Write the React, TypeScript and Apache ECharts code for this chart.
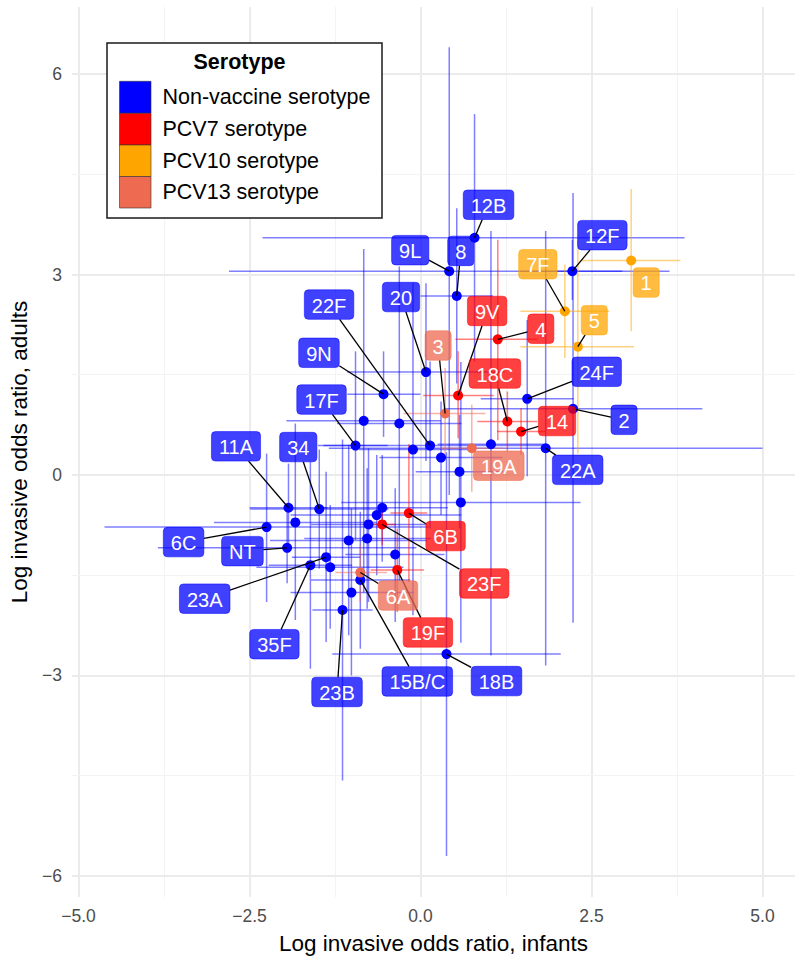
import React, { useEffect, useRef } from "react";
import * as echarts from "echarts";

// ---------- data ----------
const groupNames = ["Non-vaccine serotype", "PCV7 serotype", "PCV10 serotype", "PCV13 serotype"];
const groupColors = ["#0000FF", "#FF0000", "#FFA500", "#EE6A50"];

const serotypes = [
  "12B", "9L", "8", "12F", "20", "24F", "2", "22A", "", "22F",
  "", "", "", "", "9N", "", "", "17F", "11A", "34",
  "", "6C", "NT", "23A", "35F", "", "", "", "", "",
  "", "", "15B/C", "", "23B", "18B",
  "4", "9V", "18C", "14", "23F", "6B", "19F",
  "1", "7F", "5",
  "3", "19A", "6A",
];
const groups = [
  0, 0, 0, 0, 0, 0, 0, 0, 0, 0,
  0, 0, 0, 0, 0, 0, 0, 0, 0, 0,
  0, 0, 0, 0, 0, 0, 0, 0, 0, 0,
  0, 0, 0, 0, 0, 0,
  1, 1, 1, 1, 1, 1, 1,
  2, 2, 2,
  3, 3, 3,
];
const infantLogOR = [
  0.79, 0.42, 0.53, 2.22, 0.08, 1.56, 2.23, 1.83, 1.03, 0.14,
  -0.11, 0.30, 0.57, 0.59, -0.54, -0.83, -0.31, -0.95, -1.93, -1.48,
  -1.83, -2.25, -1.95, -1.38, -1.61, -1.32, -0.56, -0.64, -0.76, -1.05,
  -0.78, -0.37, -0.88, -1.01, -1.14, 0.38,
  1.13, 0.55, 1.27, 1.47, -0.56, -0.17, -0.34,
  3.08, 2.11, 2.30,
  0.36, 0.75, -0.88,
];
const adultLogOR = [
  3.55, 3.05, 2.68, 3.05, 1.54, 1.14, 0.99, 0.40, 0.46, 0.44,
  0.38, 0.26, 0.05, -0.41, 1.21, 0.81, 0.77, 0.44, -0.49, -0.51,
  -0.71, -0.78, -1.09, -1.23, -1.35, -1.38, -0.49, -0.60, -0.74, -0.98,
  -0.95, -1.19, -1.57, -1.76, -2.02, -2.68,
  2.03, 1.19, 0.80, 0.65, -0.74, -0.57, -1.42,
  3.21, 2.45, 1.92,
  0.92, 0.40, -1.46,
];
const infantLow = [
  -2.31, -2.80, 0.00, 1.45, -1.07, 0.88, 0.34, -1.34, 0.25, -1.50,
  -0.90, -0.60, -0.07, -1.16, -1.07, -1.96, -1.22, -1.42, -2.50, -2.49,
  -3.02, -4.62, -3.84, -1.88, -2.22, -2.40, -1.50, -1.90, -1.60, -2.20,
  -1.70, -1.10, -1.60, -1.90, -1.58, -1.29,
  0.51, 0.04, 0.83, 1.12, -0.76, -0.44, -0.73,
  2.35, 1.46, 1.46,
  -0.25, 0.29, -1.24,
];
const infantHigh = [
  3.86, 3.64, 1.06, 2.95, 1.23, 2.24, 4.12, 5.00, 1.80, 1.80,
  0.70, 1.20, 1.21, 2.34, 0.00, 0.30, 0.60, -0.48, -1.36, -0.47,
  -0.64, 0.12, -0.06, -0.88, -1.00, -0.25, 0.40, 0.60, 0.10, 0.10,
  0.15, 0.35, -0.15, -0.10, -0.70, 2.05,
  1.71, 1.07, 1.71, 1.83, -0.36, 0.10, 0.05,
  3.80, 2.76, 3.12,
  0.95, 1.21, -0.49,
];
const adultLow = [
  1.70, -0.30, 1.37, 2.62, 0.21, -0.02, -2.21, -2.85, -2.70, -0.80,
  -2.10, -0.60, -0.80, -2.51, 0.57, -1.76, -1.58, -0.97, -1.15, -1.40,
  -2.17, -1.90, -1.62, -2.50, -2.90, -2.30, -1.30, -1.50, -1.90, -2.40,
  -2.00, -2.20, -2.60, -3.00, -4.57, -5.70,
  0.52, 0.55, 0.35, 0.30, -1.05, -1.60, -2.05,
  2.15, 1.75, 0.32,
  0.25, -0.25, -1.90,
];
const adultHigh = [
  5.40, 6.40, 3.99, 3.52, 2.87, 2.32, 4.22, 3.65, 3.65, 1.70,
  2.88, 1.10, 0.90, 1.69, 1.85, 3.38, 3.12, 1.85, 0.17, 0.38,
  0.77, 0.32, -0.55, 0.05, 0.20, -0.45, 0.30, 0.30, 0.40, 0.45,
  0.10, -0.20, -0.55, -0.50, 0.53, 0.34,
  3.52, 1.85, 1.25, 1.00, -0.42, 0.46, -0.80,
  4.28, 3.15, 3.52,
  1.60, 1.05, -1.05,
];

const xTicks = [-5, -2.5, 0, 2.5, 5];
const yTicks = [-6, -3, 0, 3, 6];
const xMinorGrid = [-3.75, -1.25, 1.25, 3.75];
const yMinorGrid = [-4.5, -1.5, 1.5, 4.5];

// ---------- layout (label offsets in px from the point) ----------
const labelDx: Record<string, number> = {
  "12B": 14, "9L": -39, "8": 4, "12F": 30, "20": -25, "24F": 69.5, "2": 51, "22A": 32,
  "22F": -101, "9N": -64.6, "17F": -34, "11A": -52.5, "34": -21, "6C": -83, "NT": -44.7,
  "23A": -121.4, "35F": -36, "15B/C": 57, "23B": -5.5, "18B": 50,
  "4": 43, "9V": 29, "18C": -12.5, "14": 36, "23F": 102, "6B": 36.7, "19F": 30.7,
  "1": 15, "7F": -27, "5": 16.5, "3": -7, "19A": 27, "6A": 37.7,
};
const labelDy: Record<string, number> = {
  "12B": -33, "9L": -21, "8": -45, "12F": -36, "20": -75, "24F": -27, "2": 11, "22A": 21.6,
  "22F": -141, "9N": -41.3, "17F": -46, "11A": -61.4, "34": -62, "6C": 15, "NT": 3.3,
  "23A": 41.5, "35F": 79, "15B/C": 101.5, "23B": 82, "18B": 27,
  "4": -10.6, "9V": -84.5, "18C": -48, "14": -10.5, "23F": 59, "6B": 23, "19F": 62.5,
  "1": 22, "7F": -47, "5": -26.5, "3": -68, "19A": 17.5, "6A": 23,
};

const FONT = "'Liberation Sans', Arial, Helvetica, sans-serif";

function rgba(hex: string, a: number) {
  const n = parseInt(hex.slice(1), 16);
  return `rgba(${(n >> 16) & 255},${(n >> 8) & 255},${n & 255},${a})`;
}

let measureCtx: CanvasRenderingContext2D | null = null;
function textWidth(s: string, font: string) {
  if (!measureCtx) measureCtx = document.createElement("canvas").getContext("2d");
  if (!measureCtx) return s.length * 11;
  measureCtx.font = font;
  return measureCtx.measureText(s).width;
}

const fmt = (v: number, d: number) => {
  const s = d > 0 ? v.toFixed(d) : String(v);
  return s.replace("-", "\u2212");
};

export default function App() {
  const ref = useRef<HTMLDivElement>(null);

  useEffect(() => {
    if (!ref.current) return;
    const chart = echarts.init(ref.current, null, { renderer: "svg" });

    const n = serotypes.length;
    const barData: number[][] = [];
    for (let i = 0; i < n; i++) {
      barData.push([infantLogOR[i], adultLogOR[i], infantLow[i], infantHigh[i], adultLow[i], adultHigh[i], groups[i]]);
    }
    const labelData: number[][] = [];
    for (let i = 0; i < n; i++) {
      if (serotypes[i]) labelData.push([infantLogOR[i], adultLogOR[i], i]);
    }

    const gridLines: any[] = [];
    xTicks.forEach((v) => gridLines.push({ xAxis: v, lineStyle: { color: "#EBEBEB", width: 2, type: "solid" } }));
    xMinorGrid.forEach((v) => gridLines.push({ xAxis: v, lineStyle: { color: "#F3F3F3", width: 1, type: "solid" } }));
    yTicks.forEach((v) => gridLines.push({ yAxis: v, lineStyle: { color: "#EBEBEB", width: 2, type: "solid" } }));
    yMinorGrid.forEach((v) => gridLines.push({ yAxis: v, lineStyle: { color: "#F3F3F3", width: 1, type: "solid" } }));

    const labelFont = `20px ${FONT}`;

    const scatterSeries = groupNames.map((name, g) => ({
      type: "scatter",
      name,
      z: 4,
      symbol: "circle",
      symbolSize: 10,
      itemStyle: { color: groupColors[g], opacity: 1 },
      data: infantLogOR.map((x, i) => [x, adultLogOR[i]]).filter((_, i) => groups[i] === g),
      silent: true,
    }));

    const legendItems: any[] = [
      {
        type: "rect",
        z: 100,
        shape: { x: 107, y: 43, width: 275, height: 175 },
        style: { fill: "#ffffff", stroke: "#1a1a1a", lineWidth: 1.5 },
      },
      {
        type: "text",
        z: 101,
        x: 239.5,
        y: 62,
        style: {
          text: "Serotype",
          font: `bold 21.5px ${FONT}`,
          fill: "#000",
          align: "center",
          verticalAlign: "middle",
          textAlign: "center",
          textVerticalAlign: "middle",
        },
      },
    ];
    const keyTops = [81.3, 113.3, 145, 176.5];
    const keyH = [32, 31.7, 31.5, 31.5];
    groupNames.forEach((name, g) => {
      legendItems.push({
        type: "rect",
        z: 101,
        shape: { x: 119.5, y: keyTops[g], width: 31.5, height: keyH[g] },
        style: { fill: groupColors[g], stroke: "#333333", lineWidth: 0.6 },
      });
      legendItems.push({
        type: "text",
        z: 101,
        x: 162.5,
        y: keyTops[g] + keyH[g] / 2,
        style: {
          text: name,
          font: `21.5px ${FONT}`,
          fill: "#000",
          align: "left",
          verticalAlign: "middle",
          textAlign: "left",
          textVerticalAlign: "middle",
        },
      });
    });

    const option: any = {
      animation: false,
      backgroundColor: "#ffffff",
      textStyle: { fontFamily: FONT },
      grid: { left: 72, right: 5, top: 7, bottom: 69, containLabel: false },
      xAxis: {
        type: "value",
        min: -5.095,
        max: 5.475,
        name: "Log invasive odds ratio, infants",
        nameLocation: "middle",
        nameGap: 35,
        nameTextStyle: { fontSize: 22.5, color: "#000", fontFamily: FONT },
        axisLine: { show: false },
        axisTick: { show: false, customValues: xTicks },
        splitLine: { show: false },
        axisLabel: {
          customValues: xTicks,
          formatter: (v: number) => fmt(v, 1),
          fontSize: 17.5,
          color: "#4D4D4D",
          margin: 10,
          fontFamily: FONT,
        },
      },
      yAxis: {
        type: "value",
        min: -6.315,
        max: 7.003,
        name: "Log invasive odds ratio, adults",
        nameLocation: "middle",
        nameGap: 38,
        nameTextStyle: { fontSize: 22.5, color: "#000", fontFamily: FONT },
        axisLine: { show: false },
        axisTick: { show: false, customValues: yTicks },
        splitLine: { show: false },
        axisLabel: {
          customValues: yTicks,
          formatter: (v: number) => fmt(v, 0),
          fontSize: 17.5,
          color: "#4D4D4D",
          margin: 10,
          fontFamily: FONT,
        },
      },
      graphic: legendItems,
      series: [
        {
          type: "scatter",
          name: "grid",
          data: [],
          z: 0,
          silent: true,
          markLine: {
            silent: true,
            symbol: ["none", "none"],
            label: { show: false },
            animation: false,
            z: 0,
            data: gridLines,
          },
        },
        {
          type: "custom",
          name: "errorbars",
          z: 2,
          silent: true,
          data: barData,
          renderItem: (_params: any, api: any) => {
            const x = api.value(0), y = api.value(1);
            const g = api.value(6);
            const a = api.coord([api.value(2), y]);
            const b = api.coord([api.value(3), y]);
            const c = api.coord([x, api.value(4)]);
            const d = api.coord([x, api.value(5)]);
            const style = { stroke: rgba(groupColors[g], 0.5), lineWidth: 1.5, fill: null };
            return {
              type: "group",
              children: [
                { type: "line", shape: { x1: a[0], y1: a[1], x2: b[0], y2: b[1] }, style },
                { type: "line", shape: { x1: c[0], y1: c[1], x2: d[0], y2: d[1] }, style },
              ],
            };
          },
        },
        ...scatterSeries,
        {
          type: "custom",
          name: "labels",
          z: 6,
          silent: true,
          data: labelData,
          renderItem: (_params: any, api: any) => {
            const i = api.value(2);
            const text = serotypes[i];
            const g = groups[i];
            const p = api.coord([api.value(0), api.value(1)]);
            const w = textWidth(text, labelFont) + 15;
            const h = 29.5;
            const cx = p[0] + (labelDx[text] || 0);
            const cy = p[1] + (labelDy[text] || 0);
            const children: any[] = [];
            const ddx = cx - p[0], ddy = cy - p[1];
            const sx = ddx !== 0 ? w / 2 / Math.abs(ddx) : Infinity;
            const sy = ddy !== 0 ? h / 2 / Math.abs(ddy) : Infinity;
            const s = Math.min(sx, sy);
            if (s < 1) {
              const ex = cx - s * ddx, ey = cy - s * ddy;
              if (Math.hypot(ex - p[0], ey - p[1]) > 9) {
                children.push({
                  type: "line",
                  shape: { x1: p[0], y1: p[1], x2: ex, y2: ey },
                  style: { stroke: "#000000", lineWidth: 1.3, fill: null },
                });
              }
            }
            children.push({
              type: "rect",
              shape: { x: cx - w / 2, y: cy - h / 2, width: w, height: h, r: 4 },
              style: { fill: rgba(groupColors[g], 0.75), stroke: rgba(groupColors[g], 0.85), lineWidth: 0.6 },
            });
            children.push({
              type: "text",
              x: cx,
              y: cy + 1,
              style: {
                text,
                font: labelFont,
                fill: "#ffffff",
                align: "center",
                verticalAlign: "middle",
                textAlign: "center",
                textVerticalAlign: "middle",
              },
            });
            return { type: "group", children };
          },
        },
      ],
    };

    chart.setOption(option);
    return () => {
      chart.dispose();
    };
  }, []);

  return (
    <div
      ref={ref}
      style={{ position: "absolute", left: 0, top: 0, width: 800, height: 966, background: "#fff" }}
    />
  );
}
